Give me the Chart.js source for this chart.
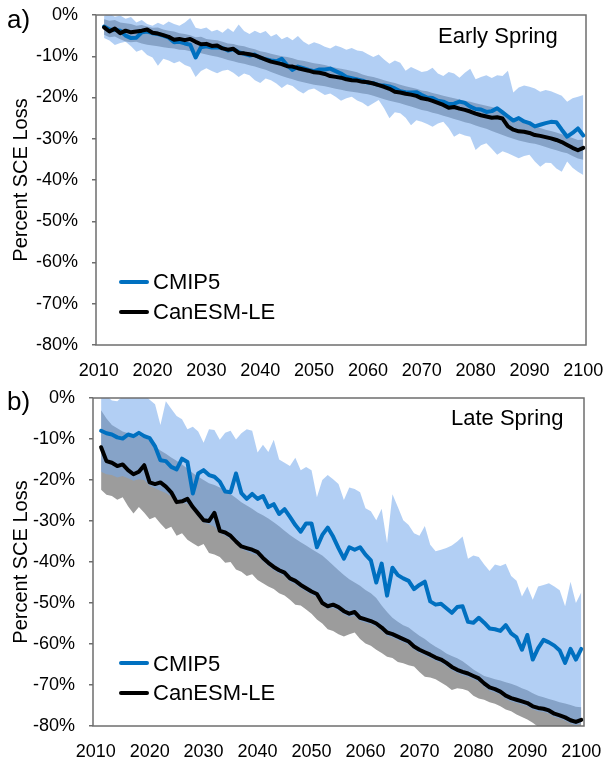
<!DOCTYPE html>
<html lang="en">
<head>
<meta charset="utf-8">
<title>Percent SCE Loss</title>
<script src="https://cdn.jsdelivr.net/npm/chart.js@4.4.1/dist/chart.umd.min.js"></script>
<style>
  html, body { margin: 0; padding: 0; background: #ffffff; }
  body { width: 604px; height: 760px; position: relative; overflow: hidden;
         font-family: "Liberation Sans", Arial, Helvetica, sans-serif; color: #000; }
  .painel { position: absolute; left: 0; width: 604px; height: 380px; }
  .painel canvas { position: absolute; left: 0; top: 0; }
  .txt { position: absolute; line-height: 1; white-space: nowrap; }
  .letra { font-size: 26px; left: 7px; }
  .estacao { font-size: 22px; }
  .leg { font-size: 22px; left: 153px; }
  .traco { position: absolute; left: 119px; width: 30px; height: 4px; border-radius: 2px; }
</style>
</head>
<body>

<div class="painel" style="top:0">
  <canvas id="graficoA" width="604" height="380"></canvas>
  <div class="txt letra" style="top:6px">a)</div>
  <div class="txt estacao" style="left:438px; top:25px">Early Spring</div>
  <div class="traco" style="top:280px; background:#0070c0"></div>
  <div class="txt leg" style="top:271px">CMIP5</div>
  <div class="traco" style="top:310px; background:#000"></div>
  <div class="txt leg" style="top:301px">CanESM-LE</div>
</div>

<div class="painel" style="top:380px">
  <canvas id="graficoB" width="604" height="380"></canvas>
  <div class="txt letra" style="top:8px">b)</div>
  <div class="txt estacao" style="left:451px; top:27px">Late Spring</div>
  <div class="traco" style="top:281px; background:#0070c0"></div>
  <div class="txt leg" style="top:273px">CMIP5</div>
  <div class="traco" style="top:311px; background:#000"></div>
  <div class="txt leg" style="top:302px">CanESM-LE</div>
</div>

<script>
/* =========================================================
   DADOS (um valor por ano, 2011 a 2100)
========================================================= */
const ANO_INICIAL = 2011;
const ANOS_ROTULO = [2010, 2020, 2030, 2040, 2050, 2060, 2070, 2080, 2090, 2100];

// a) Early Spring
const aCanMedia = [
  -3.0, -4.0, -3.3, -4.4, -3.8, -4.2, -4.0, -3.8, -3.5, -4.3,
  -4.5, -4.9, -5.3, -6.0, -5.8, -6.1, -5.8, -6.5, -7.1, -7.0,
  -7.5, -7.4, -8.1, -8.4, -8.2, -9.2, -9.3, -9.5, -9.8, -10.3,
  -10.8, -11.3, -11.6, -11.9, -12.4, -12.5, -12.9, -13.2, -13.5, -13.9,
  -14.0, -14.3, -14.8, -15.0, -15.2, -15.6, -15.8, -15.9, -16.2, -16.3,
  -16.6, -17.0, -17.4, -17.9, -18.6, -18.8, -19.1, -19.3, -19.6, -20.2,
  -20.4, -20.8, -21.3, -21.8, -22.5, -22.3, -22.7, -23.0, -23.4, -23.9,
  -24.3, -24.6, -24.9, -24.8, -25.1, -27.0, -27.8, -28.2, -28.3, -28.6,
  -29.1, -29.3, -29.6, -29.9, -30.3, -30.8, -31.5, -32.2, -32.8, -32.2
];
const aCmipMedia = [
  -2.8, -3.5, -3.6, -3.8, -5.0, -5.6, -5.5, -4.2, -4.0, -4.4,
  -4.6, -5.0, -5.5, -6.6, -6.5, -6.9, -7.2, -10.3, -7.8, -7.6,
  -7.9, -7.8, -8.0, -8.6, -8.3, -9.0, -9.4, -9.8, -9.6, -10.4,
  -10.7, -11.0, -11.2, -10.6, -12.2, -13.3, -12.5, -12.9, -13.3, -13.6,
  -13.2, -13.2, -13.0, -13.6, -14.2, -15.0, -15.3, -15.6, -15.9, -16.4,
  -16.5, -17.0, -17.1, -17.3, -17.8, -18.5, -18.7, -18.8, -18.7, -19.4,
  -20.0, -20.1, -20.8, -21.0, -21.6, -21.5, -21.0, -21.3, -22.2, -22.8,
  -22.9, -23.5, -23.3, -22.6, -23.6, -24.6, -25.6, -25.0, -25.8, -26.2,
  -27.0, -26.6, -26.2, -25.9, -26.0, -27.8, -29.5, -28.6, -27.5, -29.2
];
const aCmipMax = [
  -0.2, 0.3, -0.4, -0.1, -0.9, -0.5, -1.8, -1.2, -2.2, -2.6,
  -1.9, -2.4, -1.6, -2.2, -2.6, -1.8, -0.7, -3.1, -3.4, -3.0,
  -4.0, -3.6, -4.3, -3.2, -4.1, -2.3, -3.9, -4.6, -3.8, -4.4,
  -3.9, -5.2, -4.6, -5.9, -5.3, -6.1, -5.1, -6.4, -7.2, -6.6,
  -7.0, -7.7, -8.1, -7.4, -7.8, -8.4, -8.0, -8.6, -8.8, -9.5,
  -10.2, -9.6, -10.8, -11.8, -11.0, -11.6, -13.5, -12.6, -13.2, -13.8,
  -13.6, -12.8, -14.2, -14.8, -13.8, -14.2, -15.2, -14.0, -13.0, -15.6,
  -15.0, -14.6, -15.3, -14.6, -14.8, -13.5, -18.8, -17.6, -17.1, -17.4,
  -17.8, -18.6, -18.2, -18.5, -19.0, -19.6, -21.0, -20.2, -19.8, -19.4
];
const aCmipMin = [
  -5.6, -6.2, -7.3, -6.8, -6.5, -7.6, -8.9, -8.4, -9.7, -10.3,
  -12.3, -10.6, -11.0, -11.7, -11.2, -12.1, -12.6, -15.0, -13.6, -12.9,
  -13.6, -14.1, -13.5, -13.3, -14.0, -15.0, -14.2, -14.6, -15.8, -16.5,
  -15.4, -15.8, -16.6, -17.7, -16.8, -17.2, -18.3, -19.0, -18.1, -17.8,
  -18.6, -19.4, -19.0, -19.8, -20.8, -20.2, -19.8, -20.7, -21.3, -22.2,
  -21.4, -20.6, -22.6, -25.0, -23.6, -23.8, -24.9, -26.7, -25.5, -25.9,
  -26.4, -27.1, -26.3, -25.9, -27.4, -29.5, -28.7, -29.2, -29.5, -32.7,
  -31.6, -31.1, -32.4, -33.9, -33.0, -33.5, -34.1, -34.7, -34.2, -33.9,
  -35.5, -36.8, -35.8, -35.9, -37.2, -38.0, -35.5, -37.0, -38.0, -38.8
];
const aCanMax = [
  -1.0, -1.4, -1.2, -1.8, -2.0, -2.2, -2.6, -2.4, -2.8, -3.1,
  -3.0, -3.5, -3.8, -4.0, -4.4, -4.6, -4.9, -5.4, -5.3, -5.8,
  -6.0, -6.1, -6.5, -6.9, -7.0, -7.4, -7.6, -8.0, -8.3, -8.8,
  -9.0, -9.4, -9.7, -10.0, -10.2, -10.5, -10.9, -11.1, -11.4, -11.7,
  -11.9, -12.1, -12.5, -12.8, -13.0, -13.3, -13.6, -13.9, -14.4, -14.8,
  -15.0, -15.4, -15.8, -16.2, -16.5, -16.9, -17.3, -17.6, -17.9, -18.3,
  -18.5, -18.9, -19.2, -19.6, -19.9, -20.2, -20.5, -20.8, -21.0, -21.4,
  -21.7, -22.0, -22.3, -22.6, -23.0, -24.2, -25.0, -25.6, -26.0, -26.5,
  -27.0, -27.4, -27.8, -28.1, -28.5, -28.9, -29.4, -29.8, -30.3, -30.2
];
const aCanMin = [
  -4.8, -5.4, -5.2, -5.9, -6.4, -6.6, -6.5, -6.9, -7.2, -7.4,
  -7.6, -7.8, -8.0, -8.1, -8.4, -8.5, -8.8, -9.0, -9.3, -9.6,
  -9.9, -10.1, -10.5, -10.9, -11.2, -11.6, -11.8, -12.2, -12.5, -12.9,
  -13.3, -13.8, -14.3, -14.8, -15.2, -15.6, -16.0, -16.3, -16.6, -16.9,
  -17.1, -17.3, -17.6, -17.9, -18.1, -18.4, -18.6, -18.8, -19.0, -19.2,
  -19.6, -20.0, -20.4, -20.8, -21.1, -21.4, -21.8, -22.2, -22.6, -23.0,
  -23.3, -23.7, -24.0, -24.4, -24.8, -25.2, -25.6, -26.0, -26.3, -26.8,
  -27.2, -27.6, -28.1, -28.6, -29.1, -29.6, -30.0, -30.4, -30.7, -31.0,
  -31.2, -31.6, -32.0, -32.4, -32.8, -33.2, -33.5, -34.2, -34.8, -35.1
];

// b) Late Spring
const bCanMedia = [
  -12.0, -15.4, -15.8, -16.6, -16.2, -17.6, -18.6, -18.0, -16.4, -20.6,
  -21.0, -20.6, -21.6, -23.0, -25.4, -25.2, -24.6, -26.6, -28.2, -29.8,
  -30.0, -28.0, -32.4, -32.8, -33.6, -35.0, -36.2, -36.6, -37.0, -37.6,
  -39.0, -40.2, -41.2, -42.0, -42.6, -44.0, -44.6, -45.6, -46.4, -47.2,
  -47.8, -50.0, -50.8, -50.4, -51.0, -52.0, -52.6, -52.2, -53.6, -54.0,
  -54.4, -55.0, -56.0, -57.2, -57.6, -58.2, -58.8, -59.4, -60.6, -61.4,
  -62.0, -62.6, -63.3, -63.8, -64.6, -65.6, -66.3, -66.8, -67.2, -67.8,
  -68.4, -69.6, -70.6, -71.0, -71.6, -72.6, -73.2, -73.6, -74.0, -74.4,
  -75.2, -75.6, -75.8, -76.2, -77.0, -77.4, -77.9, -78.6, -79.0, -78.5
];
const bCmipMedia = [
  -8.0, -8.6, -8.9, -9.6, -9.9, -8.9, -9.3, -8.5, -9.3, -9.8,
  -11.8, -15.2, -15.4, -16.8, -17.4, -14.8, -15.6, -23.3, -18.4, -17.6,
  -18.8, -19.2, -20.4, -22.8, -23.0, -18.4, -23.2, -24.6, -23.4, -24.6,
  -23.9, -26.6, -25.9, -28.3, -27.1, -29.0, -31.0, -32.6, -30.6, -30.6,
  -36.4, -33.4, -31.6, -33.8, -36.6, -39.2, -36.4, -37.0, -36.4, -38.2,
  -39.6, -45.0, -40.4, -48.2, -41.4, -43.2, -44.0, -44.6, -46.6, -45.6,
  -44.8, -49.6, -50.4, -50.2, -51.3, -52.4, -51.0, -50.8, -54.6, -54.8,
  -53.6, -54.8, -56.2, -56.4, -56.8, -55.4, -57.4, -58.4, -61.4, -57.8,
  -63.8, -61.0, -59.0, -59.6, -60.4, -61.6, -64.6, -61.2, -63.8, -61.2
];
const bCmipMax = [
  1.0, 0.5, -0.6, -0.8, 0.4, 1.0, 0.6, 0.2, 0.8, -0.4,
  -1.5, -6.6, -0.8, -2.6, -4.4, -5.2, -7.6, -7.0, -8.2, -10.9,
  -7.6, -7.8, -10.2, -8.5, -8.0, -10.1, -8.6, -7.6, -8.0, -13.3,
  -11.4, -13.2, -10.2, -15.0, -15.8, -16.6, -14.6, -17.6, -16.8, -17.6,
  -24.2, -20.0, -18.8, -19.8, -21.0, -24.9, -21.8, -22.2, -23.0, -26.9,
  -27.6, -29.8, -27.0, -35.4, -23.5, -26.6, -29.8, -31.0, -33.0, -33.6,
  -31.2, -35.8, -37.4, -37.0, -36.6, -36.0, -35.0, -33.8, -39.2, -38.4,
  -38.8, -40.6, -42.2, -40.6, -41.0, -40.4, -43.4, -44.6, -48.4, -46.0,
  -49.2, -46.0, -45.6, -45.2, -46.0, -46.9, -50.8, -44.8, -50.0, -47.4
];
const bCmipMin = [
  -18.0, -18.6, -18.8, -19.4, -19.0, -19.6, -20.2, -19.8, -20.0, -21.4,
  -22.0, -22.6, -23.2, -24.0, -25.8, -25.6, -25.8, -27.4, -29.0, -30.4,
  -30.8, -31.4, -33.0, -33.6, -34.4, -35.6, -36.8, -37.4, -38.0, -38.4,
  -39.8, -41.0, -42.0, -42.8, -43.4, -44.8, -45.4, -46.4, -47.2, -48.0,
  -48.6, -50.6, -51.4, -51.2, -51.8, -52.8, -53.4, -53.2, -54.4, -54.8,
  -55.2, -55.8, -56.8, -58.0, -58.4, -59.0, -59.6, -60.2, -61.4, -62.2,
  -62.8, -63.4, -64.1, -64.6, -65.4, -66.4, -67.1, -67.6, -68.0, -68.6,
  -69.2, -70.4, -71.4, -71.8, -72.4, -73.4, -74.0, -74.4, -74.8, -75.2,
  -76.0, -76.4, -76.6, -77.0, -77.8, -78.2, -78.7, -79.4, -79.8, -79.3
];
const bCanMax = [
  -3.0, -5.0, -6.6, -7.4, -8.2, -8.6, -8.8, -9.2, -9.6, -10.4,
  -11.8, -12.8, -13.6, -14.5, -15.3, -16.2, -17.2, -18.3, -19.2, -20.0,
  -20.8, -21.2, -21.8, -22.4, -23.4, -24.4, -25.4, -26.2, -27.0, -27.9,
  -28.6, -29.4, -30.3, -31.3, -32.4, -33.4, -34.3, -35.2, -36.0, -36.8,
  -37.6, -38.4, -39.6, -40.8, -42.0, -43.2, -44.2, -45.0, -45.8, -46.8,
  -47.6, -48.8, -50.6, -52.2, -53.6, -54.6, -55.4, -56.0, -57.0, -58.0,
  -58.8, -59.8, -60.7, -61.4, -62.3, -62.9, -63.5, -64.2, -65.2, -66.2,
  -67.0, -67.8, -68.2, -68.6, -68.9, -69.3, -69.7, -70.2, -70.8, -71.3,
  -72.0, -72.6, -73.0, -73.4, -73.8, -74.2, -74.5, -74.9, -75.3, -75.4
];
const bCanMin = [
  -22.4, -23.6, -23.9, -24.8, -24.2, -26.4, -28.2, -26.6, -28.0, -29.6,
  -29.0, -30.6, -32.0, -31.4, -33.6, -33.0, -34.6, -35.4, -36.2, -35.6,
  -37.8, -38.2, -38.8, -40.2, -40.0, -41.8, -42.4, -43.4, -43.0, -44.4,
  -45.2, -46.0, -46.6, -47.6, -48.2, -49.2, -50.4, -50.6, -51.6, -52.6,
  -54.0, -55.0, -56.4, -56.8, -57.6, -58.2, -57.6, -57.2, -58.8, -59.9,
  -60.4, -61.4, -62.2, -63.1, -63.4, -64.4, -64.7, -65.2, -65.5, -66.8,
  -68.0, -68.2, -68.6, -69.4, -70.2, -71.2, -70.8, -71.0, -71.4, -72.6,
  -73.3, -73.6, -74.2, -74.6, -75.2, -76.0, -76.4, -77.2, -77.8, -78.4,
  -79.2, -80.2, -80.6, -81.0, -81.4, -81.8, -82.2, -82.6, -83.0, -83.2
];

/* =========================================================
   CORES
========================================================= */
const COR_CMIP_LINHA = '#0070c0';
const COR_CAN_LINHA = '#000000';
const COR_CMIP_FAIXA = 'rgba(118,170,235,0.56)';
const COR_CAN_FAIXA = '#9c9c9c';
const COR_MOLDURA = '#6e6e6e';
const FONTE = '"Liberation Sans", Arial, sans-serif';

Chart.defaults.font.family = FONTE;
Chart.defaults.color = '#000';

/* =========================================================
   MOLDURA DA ÁREA DO GRÁFICO
========================================================= */
const moldura = {
  id: 'moldura',
  afterDatasetsDraw(chart) {
    const { ctx, chartArea: a } = chart;
    ctx.save();
    ctx.strokeStyle = COR_MOLDURA;
    ctx.lineWidth = 1.5;
    ctx.strokeRect(a.left, a.top, a.right - a.left, a.bottom - a.top);
    ctx.restore();
  }
};

/* =========================================================
   AUXILIARES
========================================================= */
function pontos(valores) {
  return valores.map((v, i) => ({ x: ANO_INICIAL + i, y: v }));
}

function linha(valores, cor, ordem) {
  return {
    data: pontos(valores),
    borderColor: cor,
    borderWidth: 4,
    borderJoinStyle: 'round',
    borderCapStyle: 'round',
    pointRadius: 0,
    fill: false,
    order: ordem
  };
}

function faixa(valores, cor, alvo, ordem) {
  return {
    data: pontos(valores),
    borderColor: 'rgba(0,0,0,0)',
    borderWidth: 0,
    backgroundColor: cor,
    pointRadius: 0,
    fill: alvo,
    order: ordem
  };
}

/* =========================================================
   GRÁFICO
========================================================= */
function criarGrafico(id, serie, area) {
  return new Chart(document.getElementById(id), {
    type: 'line',
    data: {
      datasets: [
        linha(serie.canMedia, COR_CAN_LINHA, 0),
        linha(serie.cmipMedia, COR_CMIP_LINHA, 1),
        faixa(serie.cmipMax, COR_CMIP_FAIXA, 3, 2),
        faixa(serie.cmipMin, 'rgba(0,0,0,0)', false, 3),
        faixa(serie.canMax, COR_CAN_FAIXA, 5, 4),
        faixa(serie.canMin, 'rgba(0,0,0,0)', false, 5)
      ]
    },
    options: {
      responsive: false,
      animation: false,
      events: [],
      layout: { padding: { left: 0, top: area.topo, right: 604 - area.direita, bottom: 0 } },
      plugins: { legend: { display: false }, tooltip: { enabled: false } },
      scales: {
        x: {
          type: 'linear',
          min: 2009.5,
          max: 2100.5,
          afterBuildTicks: s => { s.ticks = ANOS_ROTULO.map(v => ({ value: v })); },
          afterFit: s => { s.height = 380 - area.base; s.paddingLeft = 0; s.paddingRight = 0; },
          ticks: {
            font: { size: 18 }, color: '#000', padding: 15,
            maxRotation: 0, autoSkip: false,
            callback: v => String(v)
          },
          grid: { display: true, drawOnChartArea: false, drawTicks: false },
          border: { display: false }
        },
        y: {
          min: -80,
          max: 0,
          afterFit: s => { s.width = area.esquerda; s.paddingTop = 0; s.paddingBottom = 0; },
          ticks: { stepSize: 10, font: { size: 18 }, color: '#000', padding: 14, callback: v => v + '%' },
          grid: { drawOnChartArea: false, drawTicks: true, tickLength: 4, color: COR_MOLDURA, lineWidth: 1.5 },
          border: { display: false },
          title: {
            display: true, text: 'Percent SCE Loss',
            font: { size: 20 }, color: '#000',
            padding: { top: 9, bottom: 0 }
          }
        }
      }
    },
    plugins: [moldura]
  });
}

criarGrafico('graficoA', {
  canMedia: aCanMedia, cmipMedia: aCmipMedia,
  cmipMax: aCmipMax, cmipMin: aCmipMin,
  canMax: aCanMax, canMin: aCanMin
}, { esquerda: 96, topo: 15, direita: 586, base: 345 });

criarGrafico('graficoB', {
  canMedia: bCanMedia, cmipMedia: bCmipMedia,
  cmipMax: bCmipMax, cmipMin: bCmipMin,
  canMax: bCanMax, canMin: bCanMin
}, { esquerda: 93, topo: 18, direita: 584, base: 346 });
</script>
</body>
</html>
